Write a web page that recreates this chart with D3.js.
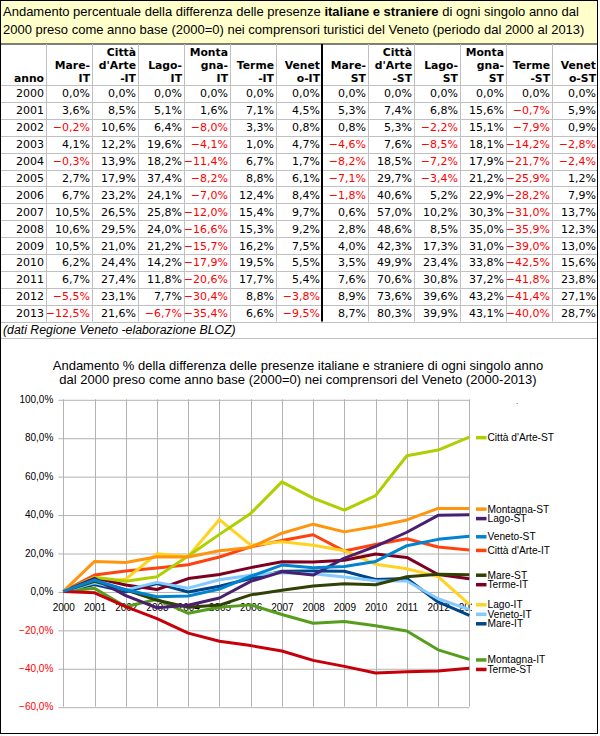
<!DOCTYPE html>
<html>
<head>
<meta charset="utf-8">
<script src="https://cdn.jsdelivr.net/npm/d3@7"></script>
<style>
  html, body { margin: 0; padding: 0; background: #fff; }
  svg { display: block; }
</style>
</head>
<body>
<svg id="chart" width="600" height="736"></svg>
<script>
// ---------------- DATA ----------------
const years = [2000, 2001, 2002, 2003, 2004, 2005, 2006, 2007, 2008, 2009, 2010, 2011, 2012, 2013];

const mareIT      = [0, 3.6, -0.2, 4.1, -0.3, 2.7, 6.7, 10.5, 10.6, 10.5, 6.2, 6.7, -5.5, -12.5];
const cittaIT     = [0, 8.5, 10.6, 12.2, 13.9, 17.9, 23.2, 26.5, 29.5, 21.0, 24.4, 27.4, 23.1, 21.6];
const lagoIT      = [0, 5.1, 6.4, 19.6, 18.2, 37.4, 24.1, 25.8, 24.0, 21.2, 14.2, 11.8, 7.7, -6.7];
const montagnaIT  = [0, 1.6, -8.0, -4.1, -11.4, -8.2, -7.0, -12.0, -16.6, -15.7, -17.9, -20.6, -30.4, -35.4];
const termeIT     = [0, 7.1, 3.3, 1.0, 6.7, 8.8, 12.4, 15.4, 15.3, 16.2, 19.5, 17.7, 8.8, 6.6];
const venetoIT    = [0, 4.5, 0.8, 4.7, 1.7, 6.1, 8.4, 9.7, 9.2, 7.5, 5.5, 5.4, -3.8, -9.5];
const mareST      = [0, 5.3, 0.8, -4.6, -8.2, -7.1, -1.8, 0.6, 2.8, 4.0, 3.5, 7.6, 8.9, 8.7];
const cittaST     = [0, 7.4, 5.3, 7.6, 18.5, 29.7, 40.6, 57.0, 48.6, 42.3, 49.9, 70.6, 73.6, 80.3];
const lagoST      = [0, 6.8, -2.2, -8.5, -7.2, -3.4, 5.2, 10.2, 8.5, 17.3, 23.4, 30.8, 39.6, 39.9];
const montagnaST  = [0, 15.6, 15.1, 18.1, 17.9, 21.2, 22.9, 30.3, 35.0, 31.0, 33.8, 37.2, 43.2, 43.1];
const termeST     = [0, -0.7, -7.9, -14.2, -21.7, -25.9, -28.2, -31.0, -35.9, -39.0, -42.5, -41.8, -41.4, -40.0];
const venetoST    = [0, 5.9, 0.9, -2.8, -2.4, 1.2, 7.9, 13.7, 12.3, 13.0, 15.6, 23.8, 27.1, 28.7];

const seriesNames = ["Mare-IT", "Città d'Arte-IT", "Lago-IT", "Montagna-IT", "Terme-IT", "Veneto-IT",
                     "Mare-ST", "Città d'Arte-ST", "Lago-ST", "Montagna-ST", "Terme-ST", "Veneto-ST"];
const seriesValues = [mareIT, cittaIT, lagoIT, montagnaIT, termeIT, venetoIT,
                      mareST, cittaST, lagoST, montagnaST, termeST, venetoST];

const headerLines = [["anno"], ["Mare-", "IT"], ["Città", "d'Arte", "-IT"], ["Lago-", "IT"], ["Monta", "gna-", "IT"],
                     ["Terme", "-IT"], ["Venet", "o-IT"], ["Mare-", "ST"], ["Città", "d'Arte", "-ST"], ["Lago-", "ST"],
                     ["Monta", "gna-", "ST"], ["Terme", "-ST"], ["Venet", "o-ST"]];

const yTicks = [-60, -40, -20, 0, 20, 40, 60, 80, 100];

const topTitle1a = "Andamento percentuale della differenza delle presenze ";
const topTitle1b = "italiane e straniere";
const topTitle1c = " di ogni singolo anno dal";
const topTitle2 = "2000 preso come anno base (2000=0) nei comprensori turistici del Veneto (periodo dal 2000 al 2013)";
const footnote = "(dati Regione Veneto -elaborazione BLOZ)";
const chartTitle1 = "Andamento % della differenza delle presenze italiane e straniere di ogni singolo anno";
const chartTitle2 = "dal 2000 preso come anno base (2000=0) nei comprensori del Veneto (2000-2013)";

const palette = ["#004586", "#ff420e", "#ffd320", "#579d1c", "#7e0021", "#83caff",
                 "#314004", "#aecf00", "#4b1f6f", "#ff950e", "#c5000b", "#0084d1"];

// ---------------- SETUP ----------------
const it = d3.formatLocale({decimal: ",", thousands: ".", grouping: [3], currency: ["", "€"]});
const fmt = v => it.format(".1f")(v) + "%";

const svg = d3.select("#chart");

// top title box
svg.append("rect").attr("x", 0.5).attr("y", 0.5).attr("width", 597).attr("height", 43.5)
  .attr("fill", "#ffffcc").attr("stroke", "#000").attr("stroke-width", 1);
const tt = svg.append("text").attr("x", 3).attr("y", 15.5)
  .attr("font-family", "Liberation Sans, Arial, sans-serif").attr("font-size", 13).attr("fill", "#000");
tt.append("tspan").text(topTitle1a);
tt.append("tspan").attr("font-weight", "bold").text(topTitle1b);
tt.append("tspan").text(topTitle1c);
svg.append("text").attr("x", 3).attr("y", 33.5)
  .attr("font-family", "Liberation Sans, Arial, sans-serif").attr("font-size", 13).attr("fill", "#000")
  .text(topTitle2);

// ---------------- TABLE ----------------
const nCols = headerLines.length;
const colX = d3.scaleLinear().domain([0, nCols]).range([0, 598]);
const headTop = 44, headBottom = 85, rowH = 16.9;
const rowY = d3.scaleLinear().domain([0, years.length]).range([headBottom, headBottom + rowH * years.length]);
const tableBottom = rowY(years.length);

const grid = svg.append("g").attr("stroke", "#c0c0c0").attr("stroke-width", 1);
// horizontal lines
d3.range(0, years.length + 1).forEach(i => {
  grid.append("line").attr("x1", 0).attr("x2", 598)
    .attr("y1", Math.round(rowY(i)) + 0.5).attr("y2", Math.round(rowY(i)) + 0.5);
});
grid.append("line").attr("x1", 0).attr("x2", 598)
  .attr("y1", Math.round(tableBottom + rowH) + 0.5).attr("y2", Math.round(tableBottom + rowH) + 0.5);
// vertical lines
d3.range(1, nCols).forEach(i => {
  grid.append("line").attr("x1", Math.round(colX(i)) + 0.5).attr("x2", Math.round(colX(i)) + 0.5)
    .attr("y1", headTop).attr("y2", tableBottom);
});
// thick separator between IT and ST
svg.append("line").attr("x1", colX(7)).attr("x2", colX(7)).attr("y1", headTop).attr("y2", tableBottom)
  .attr("stroke", "#000").attr("stroke-width", 2);

// header text
const hdr = svg.append("g").attr("font-family", "DejaVu Sans, Verdana, sans-serif")
  .attr("font-size", 10.8).attr("font-weight", "bold").attr("text-anchor", "end").attr("fill", "#000");
headerLines.forEach((lines, c) => {
  lines.forEach((ln, k) => {
    hdr.append("text").attr("x", colX(c + 1) - 2)
      .attr("y", 81.5 - (lines.length - 1 - k) * 12.7).text(ln);
  });
});

// body text
const body = svg.append("g").attr("font-family", "DejaVu Sans, Verdana, sans-serif")
  .attr("font-size", 11).attr("text-anchor", "end");
years.forEach((yr, r) => {
  const cy = (rowY(r) + rowY(r + 1)) / 2 + 4;
  body.append("text").attr("x", colX(1) - 2).attr("y", cy).attr("fill", "#000").text(yr);
  seriesValues.forEach((vals, s) => {
    const v = vals[r];
    body.append("text").attr("x", colX(s + 2) - 2).attr("y", cy)
      .attr("fill", v < 0 ? "#ff0000" : "#000").text(fmt(v));
  });
});

// footnote
svg.append("text").attr("x", 3).attr("y", tableBottom + 12.5)
  .attr("font-family", "Liberation Sans, Arial, sans-serif").attr("font-size", 12.3)
  .attr("font-style", "italic").attr("fill", "#000").text(footnote);

// ---------------- CHART ----------------
const plotL = 63.3, plotR = 469.3, plotT = 399.3, plotB = 706.7;
const x = d3.scaleLinear().domain([years[0], years[years.length - 1]]).range([plotL, plotR]);
const y = d3.scaleLinear().domain([d3.min(yTicks), d3.max(yTicks)]).range([plotB, plotT]);

const chartFont = "Liberation Sans, Arial, sans-serif";

// chart titles
svg.append("text").attr("x", 298).attr("y", 369.5).attr("text-anchor", "middle")
  .attr("font-family", chartFont).attr("font-size", 13).attr("fill", "#000").text(chartTitle1);
svg.append("text").attr("x", 298).attr("y", 384).attr("text-anchor", "middle")
  .attr("font-family", chartFont).attr("font-size", 13).attr("fill", "#000").text(chartTitle2);

// gridlines
const gg = svg.append("g").attr("stroke", "#b3b3b3").attr("stroke-width", 1);
years.forEach(yr => {
  gg.append("line").attr("x1", Math.round(x(yr)) + 0.5).attr("x2", Math.round(x(yr)) + 0.5)
    .attr("y1", y(d3.max(yTicks))).attr("y2", y(d3.min(yTicks)));
});

// y axis (ticks extend left, also horizontal gridlines)
const yAxis = d3.axisLeft(y).tickValues(yTicks).tickSize(plotR - plotL + 5).tickPadding(5).tickFormat(fmt);
const yg = svg.append("g").attr("transform", `translate(${plotR},0)`).call(yAxis);
yg.select(".domain").remove();
yg.selectAll(".tick line").attr("stroke", "#b3b3b3").attr("transform", "translate(0,0.5)");
yg.selectAll(".tick text").attr("font-family", chartFont).attr("font-size", 10)
  .attr("fill", d => d < 0 ? "#ff0000" : "#000").attr("x", -(plotR - plotL) - 10);

// x axis labels at y=0, clipped at right
svg.append("defs").append("clipPath").attr("id", "xclip")
  .append("rect").attr("x", 0).attr("y", 0).attr("width", 472).attr("height", 736);
const xAxis = d3.axisBottom(x).tickValues(years).tickFormat(d3.format("d")).tickSize(0).tickPadding(12);
const xg = svg.append("g").attr("clip-path", "url(#xclip)")
  .append("g").attr("transform", `translate(0,${y(0)})`).call(xAxis);
xg.select(".domain").remove();
xg.selectAll(".tick text").attr("font-family", chartFont).attr("font-size", 10).attr("fill", "#000");

// lines
const line = d3.line().x((d, i) => x(years[i])).y(d => y(d));
const lg = svg.append("g");
seriesValues.forEach((vals, s) => {
  lg.append("path").attr("d", line(vals)).attr("fill", "none")
    .attr("stroke", palette[s]).attr("stroke-width", 3).attr("stroke-linejoin", "round");
});

// legend: labels near end values, pushed down to avoid overlaps
const items = seriesNames.map((n, s) => ({name: n, color: palette[s], target: y(seriesValues[s][years.length - 1])}))
  .sort((a, b) => a.target - b.target);
const gap = 9.5;
items.forEach((d, i) => { d.pos = i === 0 ? d.target : Math.max(d.target, items[i - 1].pos + gap); });
const leg = svg.append("g");
items.forEach(d => {
  leg.append("line").attr("x1", 476).attr("x2", 486.5).attr("y1", d.pos + 0.5).attr("y2", d.pos + 0.5)
    .attr("stroke", d.color).attr("stroke-width", 3.5);
  leg.append("text").attr("x", 487.5).attr("y", d.pos + 4).attr("font-family", chartFont)
    .attr("font-size", 10.2).attr("fill", "#000").text(d.name);
});
svg.append("text").attr("x", 516).attr("y", 404).attr("font-family", chartFont).attr("font-size", 8).text(".");

// outer frame
svg.append("rect").attr("x", 0.5).attr("y", 0.5).attr("width", 597).attr("height", 733)
  .attr("fill", "none").attr("stroke", "#000").attr("stroke-width", 1);
</script>
</body>
</html>
